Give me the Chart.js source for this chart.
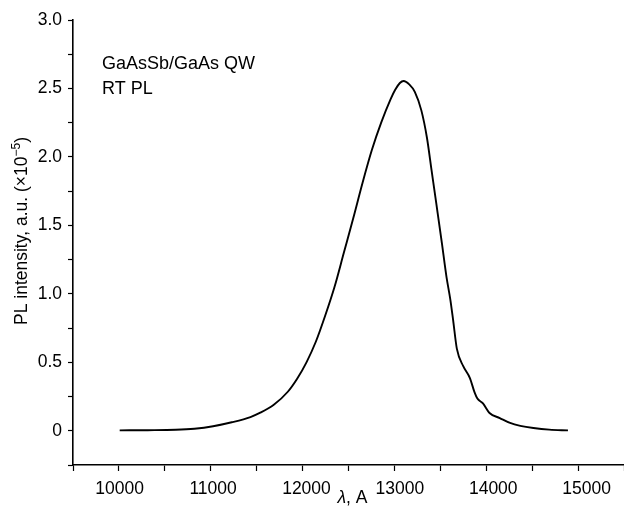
<!DOCTYPE html>
<html>
<head>
<meta charset="utf-8">
<script src="https://cdn.jsdelivr.net/npm/chart.js@4"></script>
<style>
  html, body { margin: 0; padding: 0; background: #fff; }
  #wrap { width: 624px; height: 514px; }
</style>
</head>
<body>
<div id="wrap"><canvas id="plChart" width="624" height="514"></canvas></div>
<script>
// wavelength (A)
const wavelength = [10000, 10300, 10600, 10800, 11000, 11200, 11400, 11500, 11650, 11800,
	11900, 12000, 12100, 12200, 12300, 12400, 12500, 12600, 12700, 12800,
	12900, 12950, 13000, 13040, 13100, 13160, 13230, 13290, 13340, 13390,
	13450, 13500, 13540, 13570, 13610, 13680, 13750, 13800, 13830, 13890,
	13960, 14070, 14180, 14290, 14430, 14600, 14800];
// PL intensity (x10^-5 a.u.)
const intensity = [0.003, 0.004, 0.007, 0.015, 0.033, 0.062, 0.100, 0.130, 0.19, 0.285,
	0.38, 0.50, 0.65, 0.84, 1.05, 1.30, 1.55, 1.81, 2.05, 2.25,
	2.42, 2.49, 2.54, 2.555, 2.53, 2.475, 2.34, 2.14, 1.90, 1.66,
	1.37, 1.12, 0.96, 0.81, 0.60, 0.47, 0.385, 0.28, 0.235, 0.20,
	0.13, 0.093, 0.057, 0.036, 0.02, 0.008, 0.003];

const xTickLabels = [10000, 11000, 12000, 13000, 14000, 15000];
const yTickLabels = ['0', '0.5', '1.0', '1.5', '2.0', '2.5', '3.0'];
const noteLines = ["GaAsSb/GaAs QW", "RT PL"];

const FONT = "'Liberation Sans', Arial, Helvetica, sans-serif";

// texte: note, etiquettes de l'axe x, titres des axes
const textPlugin = {
	id: 'textPlugin',
	afterDraw(chart) {
		const ctx = chart.ctx;
		const area = chart.chartArea;
		const xs = chart.scales.x;
		ctx.save();
		ctx.fillStyle = '#000';
		ctx.font = '18px ' + FONT;
		ctx.textBaseline = 'alphabetic';
		ctx.textAlign = 'left';
		ctx.fillText(noteLines[0], area.left + 29, area.top + 49);
		ctx.fillText(noteLines[1], area.left + 29, area.top + 74);

		// x tick labels
		ctx.font = '17.5px ' + FONT;
		ctx.textAlign = 'center';
		xTickLabels.forEach(v => {
			ctx.fillText(String(v), xs.getPixelForValue(v), xs.top + 29);
		});

		// x title: lambda en italique
		ctx.textAlign = 'left';
		ctx.font = 'italic 17.5px ' + FONT;
		const wl = ctx.measureText('\u03bb').width;
		ctx.font = '17.5px ' + FONT;
		const wr = ctx.measureText(', A').width;
		let tx = (area.left + area.right) / 2 + 4 - (wl + wr) / 2;
		ctx.font = 'italic 17.5px ' + FONT;
		ctx.fillText('\u03bb', tx, xs.top + 38);
		ctx.font = '17.5px ' + FONT;
		ctx.fillText(', A', tx + wl, xs.top + 38);

		// y title avec exposant
		const main = 'PL intensity, a.u. (\u00d710';
		const sup = '\u22125';
		const close = ')';
		ctx.font = '17.5px ' + FONT;
		const wMain = ctx.measureText(main).width;
		const wClose = ctx.measureText(close).width;
		ctx.font = '12px ' + FONT;
		const wSup = ctx.measureText(sup).width;
		const total = wMain + wSup + wClose;
		ctx.translate(27, 231);
		ctx.rotate(-Math.PI / 2);
		let x = -total / 2;
		ctx.font = '17.5px ' + FONT;
		ctx.fillText(main, x, 0);
		x += wMain;
		ctx.font = '12px ' + FONT;
		ctx.fillText(sup, x, -7);
		x += wSup;
		ctx.font = '17.5px ' + FONT;
		ctx.fillText(close, x, 0);
		ctx.restore();
	}
};

function yLabel(v) {
	const n = Number(v);
	const s = Math.abs(n) < 1e-9 ? '0' : n.toFixed(1);
	return (yTickLabels.indexOf(s) >= 0 && Math.abs(n * 2 - Math.round(n * 2)) < 1e-9) ? s : '';
}

const ctxPL = document.getElementById('plChart').getContext('2d');
const plChart = new Chart(ctxPL, {
	type: 'line',
	data: {
		datasets: [{
			data: wavelength.map((w, i) => ({ x: w, y: intensity[i] })),
			borderColor: '#000',
			borderWidth: 1.9,
			pointRadius: 0,
			tension: 0.2,
			cubicInterpolationMode: 'monotone',
			fill: false
		}]
	},
	options: {
		responsive: false,
		animation: false,
		layout: { padding: { top: 20, right: 0, left: 0, bottom: 0 } },
		plugins: {
			legend: { display: false },
			tooltip: { enabled: false }
		},
		scales: {
			x: {
				type: 'linear',
				min: 9500,
				max: 15400,
				afterFit(scale) { scale.height = 49; },
				border: { color: '#000', width: 1.6 },
				grid: { drawOnChartArea: false, drawTicks: true, tickLength: 6, color: '#000', tickWidth: 1.2 },
				ticks: {
					stepSize: 500,
					maxTicksLimit: 30,
					includeBounds: false,
					maxRotation: 0,
					autoSkip: false,
					display: false
				},
				title: { display: false }
			},
			y: {
				type: 'linear',
				min: -0.25,
				max: 3.0,
				afterFit(scale) { scale.width = 73; },
				border: { color: '#000', width: 1.6 },
				grid: { drawOnChartArea: false, drawTicks: true, tickLength: 5, color: '#000', tickWidth: 1.2 },
				ticks: {
					stepSize: 0.25,
					maxTicksLimit: 30,
					autoSkip: false,
					padding: 6,
					color: '#000',
					font: { family: FONT, size: 17.5 },
					callback: yLabel
				}
			}
		}
	},
	plugins: [textPlugin]
});
</script>
</body>
</html>
